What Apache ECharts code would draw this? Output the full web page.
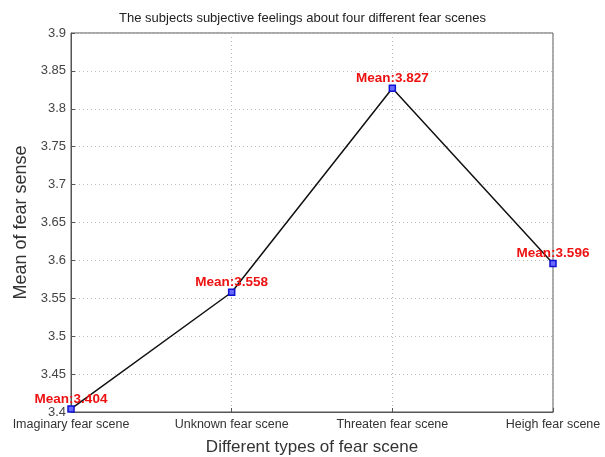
<!DOCTYPE html>
<html lang="en">
<head>
    <meta charset="UTF-8">
    <title>Fear scenes</title>
    <script src="https://cdn.jsdelivr.net/npm/echarts@6/dist/echarts.min.js"></script>
    <style>
        html, body { margin: 0; padding: 0; background: #fff; }
        #chart { width: 605px; height: 457px; }
    </style>
</head>
<body>
    <div id="chart"></div>
<script>
// categories on the x axis
var scenes = ['Imaginary fear scene', 'Unknown fear scene', 'Threaten fear scene', 'Heigh fear scene'];
// mean of fear sense per scene
var means = [3.404, 3.558, 3.827, 3.596];
// y axis range
var yMin = 3.4;
var yMax = 3.9;
var yStep = 0.05;

var myChart = echarts.init(document.getElementById('chart'));

var option = {
  animation: false,
  title: {
    text: 'The subjects subjective feelings about four different fear scenes',
    left: 'center',
    top: 7,
    textStyle: { fontFamily: 'Liberation Sans', fontSize: 13, fontWeight: 'normal', color: '#222' }
  },
  grid: {
    left: 71, right: 52, top: 33, bottom: 45,
    outerBoundsMode: 'none',
    show: true, borderColor: '#555', borderWidth: 1
  },
  xAxis: {
    type: 'category',
    data: scenes,
    boundaryGap: false,
    name: 'Different types of fear scene',
    nameLocation: 'middle',
    nameGap: 27,
    nameTextStyle: { fontFamily: 'Liberation Sans', fontSize: 17, color: '#333' },
    axisLine: { lineStyle: { color: '#555' } },
    axisTick: { inside: true, length: 4, lineStyle: { color: '#555' } },
    axisLabel: { fontFamily: 'Liberation Sans', fontSize: 12.5, color: '#333', margin: 6 },
    splitLine: { show: true, lineStyle: { color: '#bbb', type: [1, 3] } }
  },
  yAxis: {
    type: 'value',
    min: yMin, max: yMax, interval: yStep,
    name: 'Mean of fear sense',
    nameLocation: 'middle',
    nameGap: 40,
    nameTextStyle: { fontFamily: 'Liberation Sans', fontSize: 18, color: '#333' },
    axisLine: { show: true, lineStyle: { color: '#555' } },
    axisTick: { show: true, inside: true, length: 4, lineStyle: { color: '#555' } },
    axisLabel: {
      fontFamily: 'Liberation Sans', fontSize: 13, color: '#444', margin: 5,
      formatter: function (v) { return String(Math.round(v * 100) / 100); }
    },
    splitLine: { show: true, lineStyle: { color: '#bbb', type: [1, 3] } }
  },
  series: [
    {
      type: 'line',
      data: means,
      lineStyle: { color: '#111', width: 1.5 },
      symbol: 'rect',
      symbolSize: 6,
      itemStyle: { color: '#6a6aff', borderColor: '#1010d0', borderWidth: 1.5 },
      label: {
        show: true,
        position: 'top',
        distance: -1,
        color: '#ee1111',
        fontFamily: 'Liberation Sans',
        fontWeight: 'bold',
        fontSize: 13.5,
        formatter: function (p) { return 'Mean:' + p.value.toFixed(3); }
      },
      z: 5
    }
  ]
};

myChart.setOption(option);
</script>
</body>
</html>
